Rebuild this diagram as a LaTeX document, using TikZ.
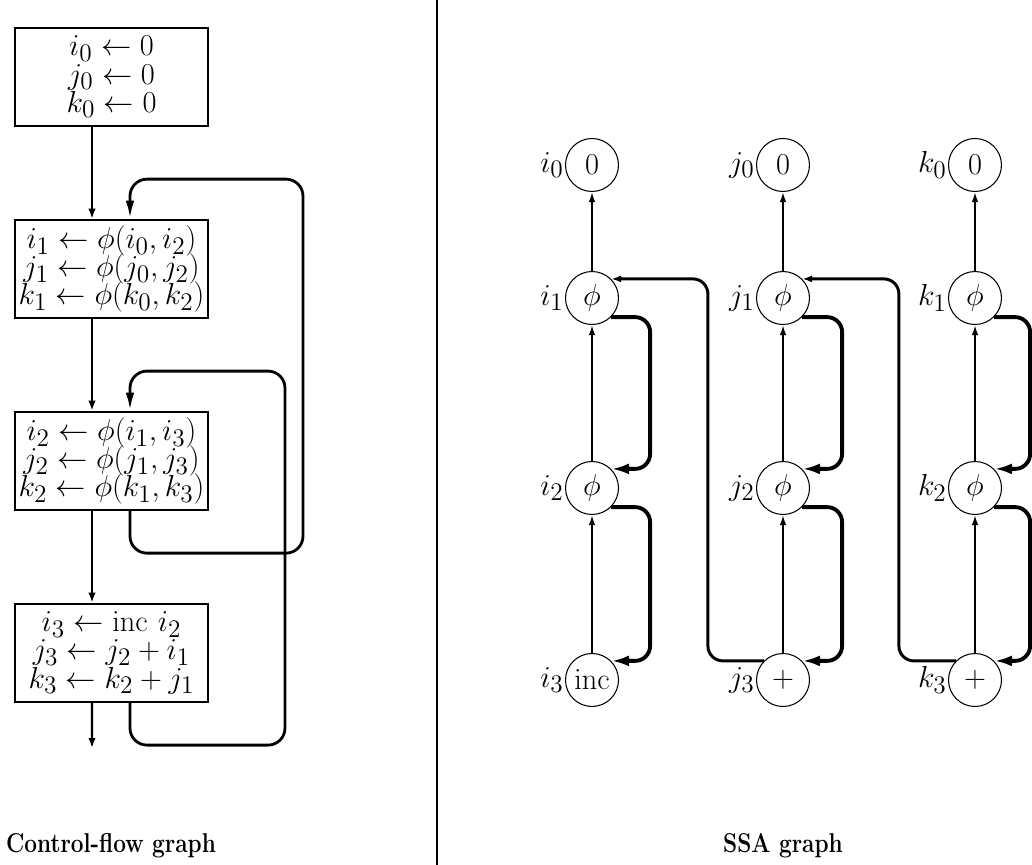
\documentclass[tikz,border=0pt]{standalone}
\usepackage{graphicx}
\usetikzlibrary{arrows.meta,positioning}

\begin{document}
\begin{tikzpicture}[x=0.02cm, y=-0.02cm, node distance=3.84cm,
    font={\fontsize{19}{16}\selectfont\lineskiplimit=-\maxdimen},
    block/.style={draw, rectangle, line width=1.4pt, minimum width=3.86cm,
      minimum height=1.96cm, inner xsep=0pt, inner ysep=2pt, align=center},
    val/.style={draw, circle, line width=0.6pt, minimum size=1.06cm,
      inner sep=0pt},
    flow/.style={line width=1.4pt, -{Latex[length=0.2cm,width=0.15cm]}},
    back/.style={line width=1.6pt, rounded corners=0.34cm,
      -{Latex[length=0.36cm,width=0.17cm]}},
    use/.style={line width=1pt, -{Latex[length=0.2cm,width=0.13cm]}},
    phiuse/.style={line width=2.2pt, rounded corners=0.3cm,
      -{Latex[length=0.36cm,width=0.22cm]}},
    crossuse/.style={line width=1.7pt, rounded corners=0.3cm,
      -{Latex[length=0.2cm,width=0.14cm]}},
    caption/.style={anchor=base, font=\fontsize{15.5}{18}\selectfont\bfseries}]
  \useasboundingbox (0,0) rectangle (1032,865);

  % control-flow graph
  \node (cfg0) [block] at (111.5,77)
        {$i_0 \leftarrow 0$\\ $j_0 \leftarrow 0$\\ $k_0 \leftarrow 0$};
  \node (cfg1) [block, below of=cfg0]
        {$i_1 \leftarrow \phi(i_0, i_2)$\\ $j_1 \leftarrow \phi(j_0, j_2)$\\
         $k_1 \leftarrow \phi(k_0, k_2)$};
  \node (cfg2) [block, below of=cfg1]
        {$i_2 \leftarrow \phi(i_1, i_3)$\\ $j_2 \leftarrow \phi(j_1, j_3)$\\
         $k_2 \leftarrow \phi(k_1, k_3)$};
  \node (cfg3) [block, below of=cfg2]
        {$i_3 \leftarrow \mathrm{inc}\ i_2$\\ $j_3 \leftarrow j_2 + i_1$\\
         $k_3 \leftarrow k_2 + j_1$};
  \coordinate (exit) at (92,748);

  \draw[flow] ([xshift=-0.39cm]cfg0.south) -- ([xshift=-0.39cm]cfg1.north);
  \draw[flow] ([xshift=-0.39cm]cfg1.south) -- ([xshift=-0.39cm]cfg2.north);
  \draw[flow] ([xshift=-0.39cm]cfg2.south) -- ([xshift=-0.39cm]cfg3.north);
  \draw[flow] ([xshift=-0.39cm]cfg3.south) -- (exit);
  \draw[back] ([xshift=0.37cm]cfg2.south) -- ++(0,42) -- ++(173,0)
        -- ++(0,-374) -- ++(-173,0) -- ([xshift=0.37cm]cfg1.north);
  \draw[back] ([xshift=0.37cm]cfg3.south) -- ++(0,42) -- ++(155,0)
        -- ++(0,-374) -- ++(-155,0) -- ([xshift=0.37cm]cfg2.north);

  \draw[line width=0.9pt] (437,0) -- (437,865);

  % SSA graph
  \node (i0) [val, label={[inner sep=0.5pt]left:$i_0$}] at (592,165) {$0$};
  \node (i1) [val, label={[inner sep=0.5pt]left:$i_1$}] at (592,298) {$\phi$};
  \node (i2) [val, label={[inner sep=0.5pt]left:$i_2$}] at (592,488) {$\phi$};
  \node (i3) [val, label={[inner sep=0.5pt]left:$i_3$}] at (592,680)
        {$\mathrm{inc}$};
  \node (j0) [val, label={[inner sep=0.5pt]left:$j_0$}] at (783,165) {$0$};
  \node (j1) [val, label={[inner sep=0.5pt]left:$j_1$}] at (783,298) {$\phi$};
  \node (j2) [val, label={[inner sep=0.5pt]left:$j_2$}] at (783,488) {$\phi$};
  \node (j3) [val, label={[inner sep=0.5pt]left:$j_3$}] at (783,680) {$+$};
  \node (k0) [val, label={[inner sep=0.5pt]left:$k_0$}] at (975,165) {$0$};
  \node (k1) [val, label={[inner sep=0.5pt]left:$k_1$}] at (975,298) {$\phi$};
  \node (k2) [val, label={[inner sep=0.5pt]left:$k_2$}] at (975,488) {$\phi$};
  \node (k3) [val, label={[inner sep=0.5pt]left:$k_3$}] at (975,680) {$+$};

  \draw[use] (i1) -- (i0);
  \draw[use] (i2) -- (i1);
  \draw[use] (i3) -- (i2);
  \draw[use] (j1) -- (j0);
  \draw[use] (j2) -- (j1);
  \draw[use] (j3) -- (j2);
  \draw[use] (k1) -- (k0);
  \draw[use] (k2) -- (k1);
  \draw[use] (k3) -- (k2);

  \draw[phiuse] (i1.south east) -- ++(39,0) |- (i2.north east);
  \draw[phiuse] (i2.south east) -- ++(39,0) |- (i3.north east);
  \draw[phiuse] (j1.south east) -- ++(40,0) |- (j2.north east);
  \draw[phiuse] (j2.south east) -- ++(40,0) |- (j3.north east);
  \draw[phiuse] (k1.south east) -- ++(36,0) |- (k2.north east);
  \draw[phiuse] (k2.south east) -- ++(36,0) |- (k3.north east);

  \draw[crossuse] (j3.north west) -- ++(-56,0) |- (i1.north east);
  \draw[crossuse] (k3.north west) -- ++(-57,0) |- (j1.north east);

  \node (cfgcap) [caption] at (111,852)
        {\scalebox{0.83}[1]{Control-flow graph}};
  \node (ssacap) [caption] at (783,852) {\scalebox{0.83}[1]{SSA graph}};
\end{tikzpicture}
\end{document}
